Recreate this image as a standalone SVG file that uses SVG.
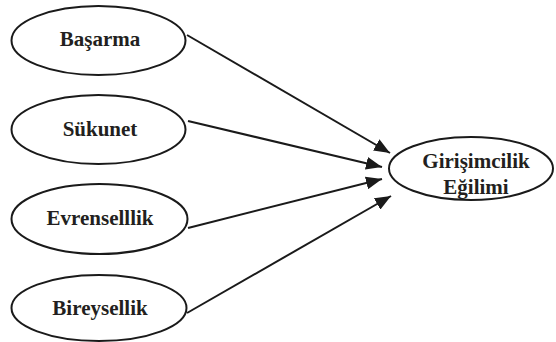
<svg xmlns="http://www.w3.org/2000/svg" width="556" height="342" viewBox="0 0 556 342">
<style>
.n ellipse{fill:#fff;stroke:#1a1a1a;stroke-width:2}
.n text{font-family:"Liberation Serif","Times New Roman",serif;font-weight:bold;font-size:21px;fill:#231f20;text-anchor:middle}
.c line{stroke:#1a1a1a;stroke-width:2}
</style>
<defs>
<marker id="ah" markerUnits="userSpaceOnUse" markerWidth="16" markerHeight="13" viewBox="0 0 16 13" refX="16" refY="6.5" orient="auto">
<path d="M0,0 L16,6.5 L0,13 Z" fill="#1a1a1a"/>
</marker>
</defs>
<rect width="556" height="342" fill="#fff"/>
<g id="basarma" class="n"><ellipse cx="98.5" cy="40.5" rx="87" ry="34.5"/><text x="100" y="45.5">Başarma</text></g>
<g id="sukunet" class="n"><ellipse cx="98.5" cy="129.5" rx="87" ry="34.5"/><text x="100" y="135.5">Sükunet</text></g>
<g id="evrensellik" class="n"><ellipse cx="99.5" cy="219" rx="88" ry="35"/><text x="100" y="225">Evrenselllik</text></g>
<g id="bireysellik" class="n"><ellipse cx="99" cy="308" rx="87.5" ry="33"/><text x="100" y="315">Bireysellik</text></g>
<g id="girisimcilik" class="n"><ellipse cx="471" cy="168.5" rx="82" ry="31.5"/><text x="476" y="168">Girişimcilik</text><text x="476" y="194">Eğilimi</text></g>
<g id="connectors" class="c">
<line x1="187" y1="35" x2="390" y2="153" marker-end="url(#ah)"/>
<line x1="188" y1="121" x2="382" y2="167" marker-end="url(#ah)"/>
<line x1="188" y1="228" x2="382" y2="179" marker-end="url(#ah)"/>
<line x1="187" y1="313" x2="391" y2="196" marker-end="url(#ah)"/>
</g>
</svg>
